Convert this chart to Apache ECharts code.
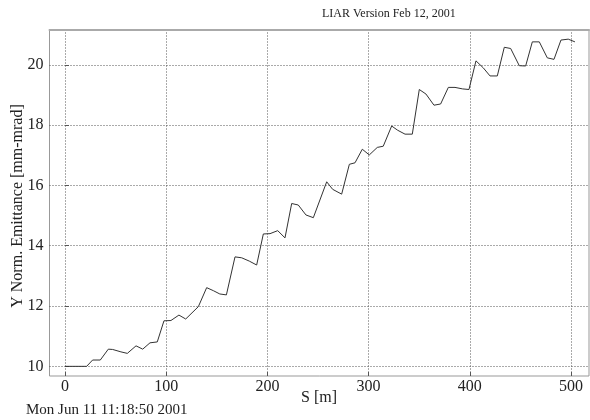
<!DOCTYPE html>
<html><head><meta charset="utf-8">
<script src="https://cdn.jsdelivr.net/npm/echarts@6/dist/echarts.min.js"></script>
<style>html,body{margin:0;padding:0;background:#fff}#c{width:590px;height:420px}</style>
</head><body><div id="c"></div>
<script>
var sPos = [0,21.4,27.3,34.9,42.8,47.1,55.3,61.6,70.2,76.8,84,91.2,97.8,104.7,112.6,119.3,131.8,140,146.6,153,159.5,168,174.6,182.1,189.4,196,202.6,210.2,217.4,224,230.5,238.1,245.4,258.6,264.5,273.4,281,286.6,293.8,300.7,308.6,314.5,322.8,328.7,336,343.2,350.1,356.7,364.6,371.2,378.8,385.4,393,399.2,406.1,413.3,420,427.2,434.1,440.4,448.9,455.2,461.8,468.7,476.6,483.2,490.1,497.3,503.9];
var emitY = [10,10,10.21,10.21,10.57,10.56,10.48,10.43,10.68,10.57,10.78,10.81,11.51,11.52,11.70,11.57,11.98,12.61,12.51,12.40,12.37,13.63,13.60,13.49,13.36,14.39,14.40,14.50,14.26,15.40,15.35,15.02,14.93,16.12,15.87,15.71,16.70,16.75,17.20,17.01,17.26,17.30,17.97,17.83,17.70,17.70,19.18,19.03,18.66,18.70,19.25,19.25,19.20,19.18,20.13,19.90,19.63,19.63,20.58,20.54,19.97,19.96,20.76,20.76,20.23,20.18,20.82,20.85,20.76];
var xTicks = [0,100,200,300,400,500];
var yTicks = [10,12,14,16,18,20];
var title = 'LIAR Version Feb 12, 2001';
var dateText = 'Mon Jun 11 11:18:50 2001';
var xName = 'S [m]';
var yName = 'Y Norm. Emittance [mm-mrad]';

var font = '"Liberation Serif", "Times New Roman", serif';
var chart = echarts.init(document.getElementById('c'));
var data = sPos.map(function(s,i){return [s, emitY[i]];});
var gridLine = {show:true, lineStyle:{color:'#555', type:[1,2], width:1}};
chart.setOption({
  animation:false,
  backgroundColor:'#fff',
  grid:{left:49.5, right:1, top:29.5, bottom:44, show:true, borderColor:'#999', borderWidth:1},
  xAxis:[{type:'value', min:-15.3, max:517.8,
    axisLine:{show:false},
    axisTick:{show:true, inside:true, length:4, lineStyle:{color:'#555'}, customValues:xTicks},
    axisLabel:{customValues:xTicks, color:'#222', fontFamily:font, fontSize:16, margin:3},
    splitLine:gridLine},
   {type:'value', position:'top', min:-15.3, max:517.8,
    axisLine:{show:true, lineStyle:{color:'#aaa', width:2}},
    axisTick:{show:false}, axisLabel:{show:false}, splitLine:{show:false}}],
  yAxis:{type:'value', min:9.68, max:21.17,
    axisLine:{show:false},
    axisTick:{show:true, inside:true, length:4, lineStyle:{color:'#555'}, customValues:yTicks},
    axisLabel:{customValues:yTicks, color:'#222', fontFamily:font, fontSize:16, margin:6},
    splitLine:gridLine},
  graphic:[
    {type:'text', left:322, top:8, style:{text:title, font:'12px ' + font, fill:'#222'}},
    {type:'text', left:26, top:403, style:{text:dateText, font:'15px ' + font, fill:'#222'}},
    {type:'text', left:301, top:390, style:{text:xName, font:'16px ' + font, fill:'#222'}},
    {type:'text', x:18, y:206, rotation:Math.PI/2, style:{text:yName, font:'16px ' + font, fill:'#222', align:'center', verticalAlign:'middle'}}
  ],
  series:[{type:'line', xAxisIndex:0, data:data, showSymbol:false, symbol:'none',
    lineStyle:{color:'#333', width:1}}]
});
</script></body></html>
